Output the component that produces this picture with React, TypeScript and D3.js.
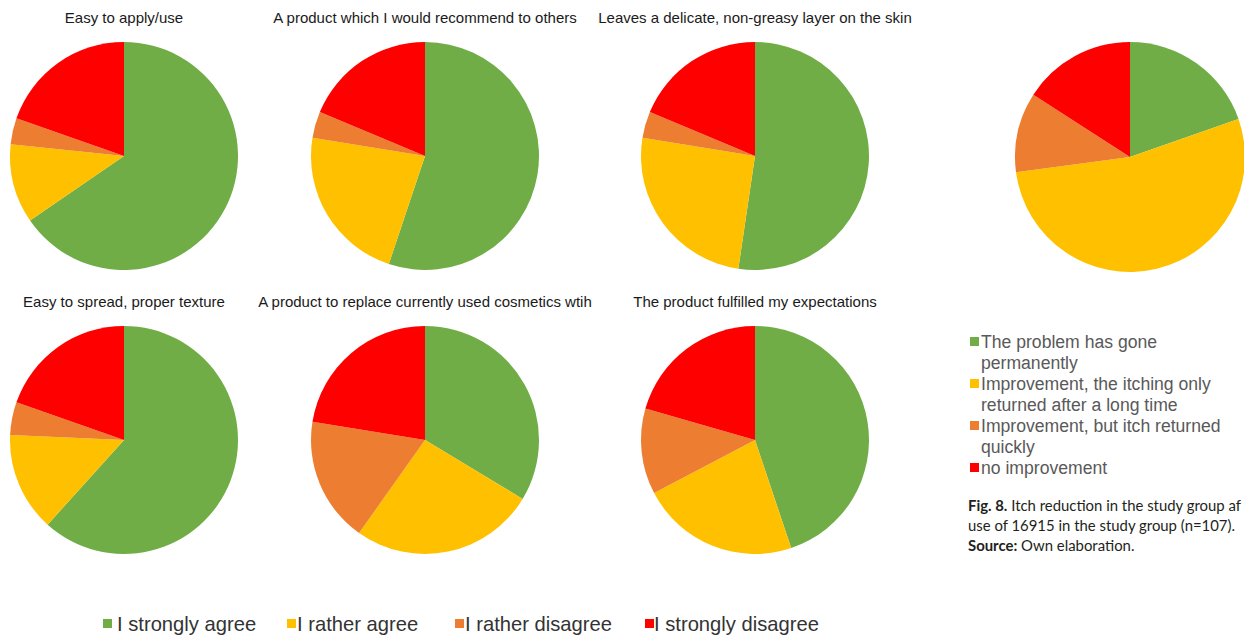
import React from "react";
import * as d3 from "d3";

// Answer scale shared by the six statement pies
const responseCategories = ["I strongly agree", "I rather agree", "I rather disagree", "I strongly disagree"];
const responseColors = ["#70AD47", "#FFC000", "#ED7D31", "#FF0000"];

// Statement titles (row by row)
const statementTitles = [
  "Easy to apply/use",
  "A product which I would recommend to others",
  "Leaves a delicate, non-greasy layer on the skin",
  "Easy to spread, proper texture",
  "A product to replace currently used cosmetics wtih",
  "The product fulfilled my expectations",
];

// Respondent counts per answer (n = 107)
const easyToApply = [70, 12, 4, 21];
const wouldRecommend = [59, 24, 4, 20];
const delicateLayer = [56, 27, 4, 20];
const easyToSpread = [66, 15, 5, 21];
const replaceCosmetics = [36, 28, 19, 24];
const fulfilledExpectations = [48, 24, 13, 22];

const statementValues = [
  easyToApply,
  wouldRecommend,
  delicateLayer,
  easyToSpread,
  replaceCosmetics,
  fulfilledExpectations,
];

// Itch reduction outcome (n = 107)
const itchCategories = [
  "The problem has gone\npermanently",
  "Improvement, the itching only\nreturned after a long time",
  "Improvement, but itch returned\nquickly",
  "no improvement",
];
const itchReduction = [21, 57, 12, 17];

const W = 1244;
const H = 636;

const pieGen = d3.pie<number>().sort(null).value((d) => d);

function PieChart({ values, cx, cy, r }: { values: number[]; cx: number; cy: number; r: number }) {
  const arc = d3.arc<d3.PieArcDatum<number>>().innerRadius(0).outerRadius(r);
  const arcs = pieGen(values);
  return (
    <g transform={`translate(${cx},${cy})`}>
      {arcs.map((a, i) => (
        <path key={i} d={arc(a) || ""} fill={responseColors[i]} />
      ))}
    </g>
  );
}

export default function App() {
  // the three columns are not evenly spaced
  const colCenters = [124, 425, 755];
  const rowCenters = [156, 440];
  const titleBaselines = [23, 307];
  const radius = 114;

  const legendItems = [
    { x: 103, tx: 117 },
    { x: 287, tx: 297 },
    { x: 455, tx: 465 },
    { x: 645, tx: 654 },
  ];

  let lineIdx = 0;
  const legendLineH = 21;
  const itchArc = d3.arc<d3.PieArcDatum<number>>().innerRadius(0).outerRadius(115);

  return (
    <svg
      width={W}
      height={H}
      style={{ position: "absolute", left: 0, top: 0, background: "#fff" }}
      fontFamily="'Liberation Sans', Arial, sans-serif"
    >
      <rect width={W} height={H} fill="#fff" />
      {statementValues.map((vals, i) => {
        const col = i % 3;
        const row = Math.floor(i / 3);
        return (
          <g key={i}>
            <text
              x={colCenters[col]}
              y={titleBaselines[row]}
              textAnchor="middle"
              fontSize={15}
              fill="#1a1a1a"
            >
              {statementTitles[i]}
            </text>
            <PieChart values={vals} cx={colCenters[col]} cy={rowCenters[row]} r={radius} />
          </g>
        );
      })}

      {/* bottom legend */}
      {responseCategories.map((c, i) => (
        <g key={c}>
          <rect x={legendItems[i].x} y={619} width={9} height={9} fill={responseColors[i]} />
          <text x={legendItems[i].tx} y={631} fontSize={20.2} fill="#333">
            {c}
          </text>
        </g>
      ))}

      {/* itch reduction pie */}
      <g transform="translate(1130,157)">
        {pieGen(itchReduction).map((a, i) => (
          <path key={i} d={itchArc(a) || ""} fill={responseColors[i]} />
        ))}
      </g>

      {/* itch legend */}
      {itchCategories.map((c, i) => {
        const lines = c.split("\n");
        const startY = 348 + lineIdx * legendLineH;
        lineIdx += lines.length;
        return (
          <g key={i}>
            <rect x={970} y={startY - 11} width={9} height={9} fill={responseColors[i]} />
            <text x={981} y={startY} fontSize={17.6} fill="#595959">
              {lines.map((l, j) => (
                <tspan key={j} x={981} y={startY + j * legendLineH}>
                  {l}
                </tspan>
              ))}
            </text>
          </g>
        );
      })}

      {/* figure caption */}
      <g fontFamily="Lato, 'Open Sans', sans-serif" fontSize={14.9} fill="#231f20">
        <text x={968} y={511}>
          <tspan fontWeight="bold">Fig. 8.</tspan>
          <tspan> Itch reduction in the study group af</tspan>
        </text>
        <text x={968} y={531}>use of 16915 in the study group (n=107).</text>
        <text x={968} y={551}>
          <tspan fontWeight="bold">Source:</tspan>
          <tspan> Own elaboration.</tspan>
        </text>
      </g>
    </svg>
  );
}
